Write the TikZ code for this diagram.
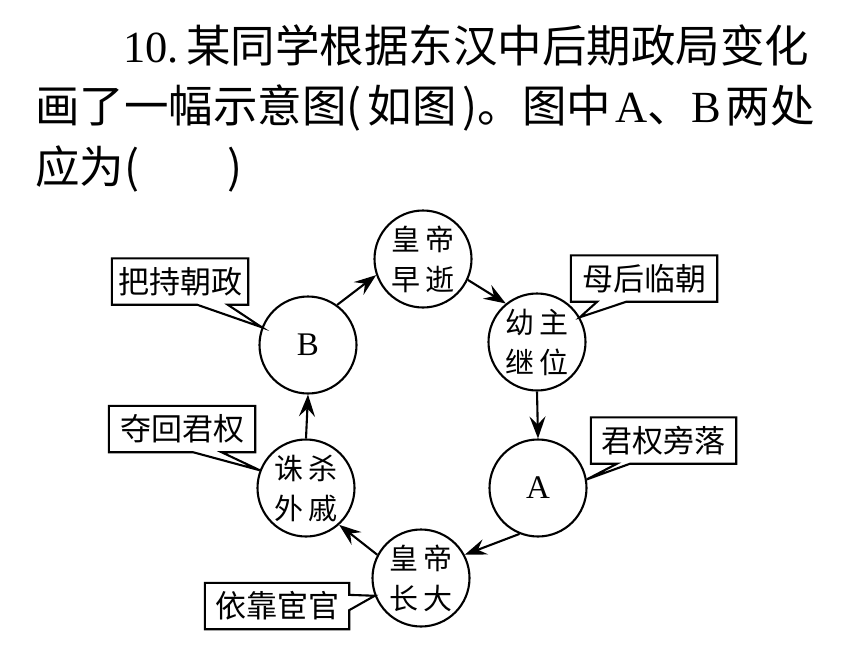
\documentclass[tikz,border=0pt]{standalone}
\usepackage{fontspec}
\setmainfont{Liberation Serif}
\newfontfamily\cjk{Noto Sans CJK SC}
\usetikzlibrary{arrows.meta,calc}
\tikzset{
  stage/.style={circle,draw,line width=2.1pt,minimum size=97pt,inner sep=0pt,align=center,font=\cjk\fontsize{29}{40}\selectfont},
  letter/.style={circle,draw,line width=2.1pt,minimum size=97pt,inner sep=0pt,font=\fontsize{33}{34}\selectfont},
  note/.style={rectangle,minimum width=#1,minimum height=46pt,inner sep=0pt,font=\cjk\fontsize{31}{32}\selectfont},
  bubble/.style={draw,line width=2.1pt,fill=white,line join=miter},
  flow/.style={line width=2.1pt,-{Stealth[length=22pt,width=16pt,inset=8pt]}},
  title/.style={anchor=base west,inner sep=0pt,font=\cjk\fontsize{44.5}{44}\selectfont},
}
\newcommand{\gp}{\hspace{5pt}}
\begin{document}
\begin{tikzpicture}[x=1pt,y=-1pt]
\useasboundingbox (0,0) rectangle (845,645);
% title
\node[title] (t1) at (123,62) {{\rmfamily 10.}\,某同学根据东汉中后期政局变化};
\node[title] (t2) at (35,122) {画了一幅示意图(\hspace{6pt}如图\hspace{6pt})。图中\hspace{4pt}{\rmfamily A}、{\rmfamily B}\hspace{4pt}两处};
\node[title] (t3) at (35,183) {应为(\hspace{88pt})};
% circles
\node[stage]  (E) at (423,259) {皇\gp 帝\\早\gp 逝};
\node[stage]  (Y) at (537,342) {幼\gp 主\\继\gp 位};
\node[letter] (A) at (538,488) {A};
\node[stage]  (L) at (421,578) {皇\gp 帝\\长\gp 大};
\node[stage]  (Z) at (306,488) {诛\gp 杀\\外\gp 戚};
\node[letter] (B) at (308,345) {B};
% arrows
\draw[flow] (B.54) -- (E.199);
\draw[flow] (E.-25) -- (Y.129);
\draw[flow] (Y.-90) -- (A.90);
\draw[flow] (A.248) -- (L.28);
\draw[flow] (L.152) -- (Z.-48);
\draw[flow] (Z.90) -- (B.-90);
% callouts
\node[note=136pt] (n1) at (180,281.5) {};
\draw[bubble] (n1.south west) -- ($(n1.south west)!0.625!(n1.south east)$) -- (B.159) -- ($(n1.south west)!0.85!(n1.south east)$) -- (n1.south east) -- (n1.north east) -- (n1.north west) -- cycle;
\node[note=146pt] (n2) at (644,278.5) {};
\draw[bubble] (n2.south west) -- ($(n2.south west)!0.18!(n2.south east)$) -- (Y.30) -- ($(n2.south west)!0.38!(n2.south east)$) -- (n2.south east) -- (n2.north east) -- (n2.north west) -- cycle;
\node[note=145pt] (n3) at (663.5,440.5) {};
\draw[bubble] (n3.south west) -- ($(n3.south west)!0.18!(n3.south east)$) -- (A.10) -- ($(n3.south west)!0.27!(n3.south east)$) -- (n3.south east) -- (n3.north east) -- (n3.north west) -- cycle;
\node[note=146pt] (n4) at (182,429) {};
\draw[bubble] (n4.south west) -- ($(n4.south west)!0.575!(n4.south east)$) -- (Z.159) -- ($(n4.south west)!0.77!(n4.south east)$) -- (n4.south east) -- (n4.north east) -- (n4.north west) -- cycle;
\node[note=144pt] (n5) at (277,606) {};
\draw[bubble] (n5.north west) -- (n5.north east) -- ($(n5.north east)!0.26!(n5.south east)$) -- (L.201) -- ($(n5.north east)!0.59!(n5.south east)$) -- (n5.south east) -- (n5.south west) -- cycle;
% callout texts
\node[note=136pt] (m1) at (n1) {把持朝政};
\node[note=146pt] (m2) at (n2) {母后临朝};
\node[note=145pt] (m3) at (n3) {君权旁落};
\node[note=146pt] (m4) at (n4) {夺回君权};
\node[note=144pt] (m5) at (n5) {依靠宦官};
\end{tikzpicture}
\end{document}
